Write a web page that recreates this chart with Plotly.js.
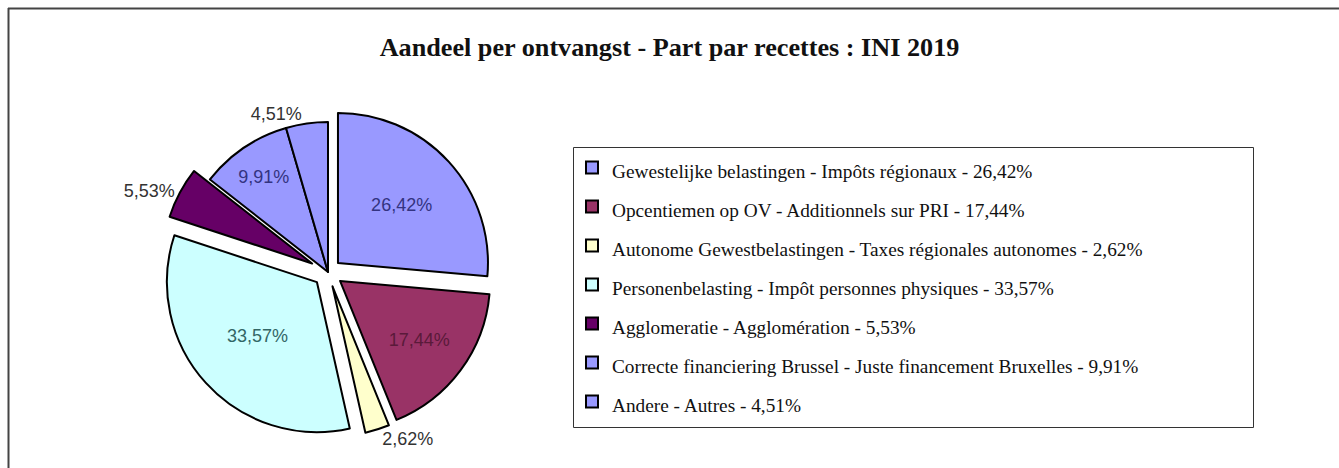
<!DOCTYPE html>
<html>
<head>
<meta charset="utf-8">
<script src="https://cdn.plot.ly/plotly-3.0.1.min.js"></script>
<style>html,body{margin:0;padding:0;background:#fff;}#chart{width:1339px;height:468px;}</style>
</head>
<body>
<div id="chart"></div>
<script>
// Data
var categories = [
  "Gewestelijke belastingen - Impôts régionaux",
  "Opcentiemen op OV - Additionnels sur PRI",
  "Autonome Gewestbelastingen - Taxes régionales autonomes",
  "Personenbelasting - Impôt personnes physiques",
  "Agglomeratie - Agglomération",
  "Correcte financiering Brussel - Juste financement Bruxelles",
  "Andere - Autres"
];
var shares = [26.42, 17.44, 2.62, 33.57, 5.53, 9.91, 4.51];
var shareLabels = ["26,42%", "17,44%", "2,62%", "33,57%", "5,53%", "9,91%", "4,51%"];

var sliceColors = ["#9999FF", "#993366", "#FFFFCC", "#CCFFFF", "#660066", "#9999FF", "#9999FF"];
var labelColors = ["#333380", "#5a1a3a", "#333333", "#336666", "#333333", "#333380", "#333333"];
var textPos = ["inside", "inside", "outside", "inside", "outside", "inside", "outside"];
var pulls = [0.09, 0.1, 0.1, 0.1, 0.12, 0, 0];

var legendTextSize = 19.3;
var legendNames = categories.map(function (c, i) {
  return '<span style="font-size:' + legendTextSize + 'px">' + c + " - " + shareLabels[i] + "</span>";
});

var W = 1339, H = 468;
var cx = 328, cy = 272, R = 150, maxPull = 0.12;
var half = R * (1 + maxPull);
var labelFont = { family: "Liberation Sans, Arial, sans-serif", size: 18, color: labelColors };

var trace = {
  type: "pie",
  labels: legendNames,
  values: shares,
  text: shareLabels,
  texttemplate: "%{text}",
  textinfo: "text",
  textposition: textPos,
  sort: false,
  direction: "clockwise",
  rotation: 0,
  pull: pulls,
  marker: { colors: sliceColors, line: { color: "#000000", width: 2 } },
  textfont: labelFont,
  insidetextfont: labelFont,
  outsidetextfont: labelFont,
  insidetextorientation: "horizontal",
  hoverinfo: "label+text",
  domain: {
    x: [(cx - half) / W, (cx + half) / W],
    y: [(H - cy - half) / H, (H - cy + half) / H]
  }
};

var layout = {
  width: W, height: H,
  margin: { l: 0, r: 0, t: 0, b: 0 },
  paper_bgcolor: "#ffffff",
  title: {
    text: "<b>Aandeel per ontvangst - Part par recettes : INI 2019</b>",
    font: { family: "Liberation Serif, Times New Roman, serif", size: 26.2, color: "#111111" },
    x: 0.5, xanchor: "center", y: 1 - 47 / H, yanchor: "middle"
  },
  showlegend: true,
  legend: {
    x: 572 / W, xanchor: "left",
    y: 1 - 143 / H, yanchor: "top",
    font: { family: "Liberation Serif, Times New Roman, serif", size: 27.7, color: "#111111" },
    bgcolor: "rgba(0,0,0,0)",
    borderwidth: 0
  },
  shapes: [
    { type: "line", xref: "paper", yref: "paper", x0: 8 / W, x1: 1, y0: 1 - 8.5 / H, y1: 1 - 8.5 / H, line: { color: "#444444", width: 2 } },
    { type: "line", xref: "paper", yref: "paper", x0: 8.5 / W, x1: 8.5 / W, y0: 0, y1: 1 - 8 / H, line: { color: "#444444", width: 2 } },
    { type: "rect", xref: "paper", yref: "paper", x0: 573.5 / W, x1: 1253.5 / W, y0: 1 - 427.5 / H, y1: 1 - 147.5 / H, line: { color: "#333333", width: 1 } }
  ]
};

Plotly.newPlot("chart", [trace], layout, { displayModeBar: false, staticPlot: true });
</script>
</body>
</html>
